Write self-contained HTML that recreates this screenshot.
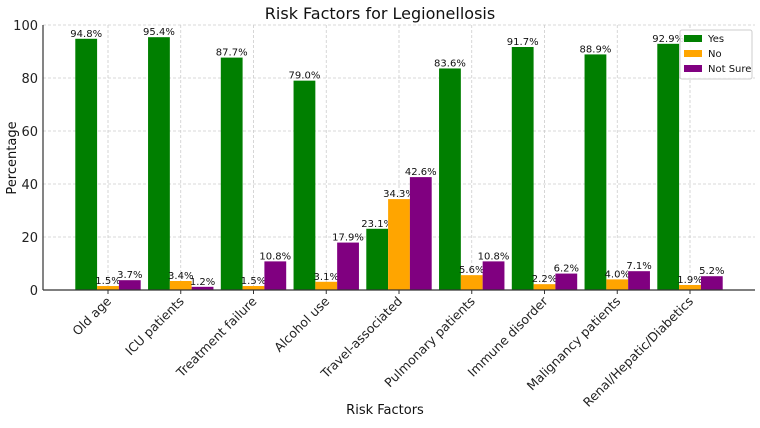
<!DOCTYPE html>
<html><head><meta charset="utf-8"><style>
body{margin:0;background:#fff;font-family:"Liberation Sans","DejaVu Sans",sans-serif}
</style></head><body>
<svg id="chart" width="760" height="423" xmlns="http://www.w3.org/2000/svg" font-family="DejaVu Sans, Liberation Sans, sans-serif"></svg>
<script>
const categories=["Old age","ICU patients","Treatment failure","Alcohol use","Travel-associated","Pulmonary patients","Immune disorder","Malignancy patients","Renal/Hepatic/Diabetics"];
const yesValues=[94.8,95.4,87.7,79.0,23.1,83.6,91.7,88.9,92.9];
const noValues=[1.5,3.4,1.5,3.1,34.3,5.6,2.2,4.0,1.9];
const notSureValues=[3.7,1.2,10.8,17.9,42.6,10.8,6.2,7.1,5.2];
const yTicks=[0,20,40,60,80,100];
const seriesNames=["Yes","No","Not Sure"];
const seriesColors=["#007f00","#ffa500","#800080"];

const svgEl=document.getElementById('chart');
const NS="http://www.w3.org/2000/svg";
const pL=43,pR=755,pT=25,pB=290;
const step=72.75,c0=108,bw=21.8;
const xC=i=>c0+i*step;
const yS=v=>pB-(v/100)*(pB-pT);
function el(t,a,txt){const e=document.createElementNS(NS,t);for(const k in a)e.setAttribute(k,a[k]);if(txt!=null)e.textContent=txt;svgEl.appendChild(e);return e;}

yTicks.forEach(v=>{
  const g=el('line',{x1:pL,x2:pR,y1:yS(v),y2:yS(v),stroke:'#ccc','stroke-dasharray':'3,2','stroke-width':0.8});
  
  
  const t=el('text',{x:pL-5,y:yS(v)+5,'text-anchor':'end','font-size':13,fill:'#222'},v);
  
  
});
categories.forEach((c,i)=>{
  const g=el('line',{x1:xC(i),x2:xC(i),y1:pT,y2:pB,stroke:'#ccc','stroke-dasharray':'3,2','stroke-width':0.8});
  
  
});
const series=[yesValues,noValues,notSureValues];
series.forEach((vals,s)=>{
  vals.forEach((v,i)=>{
    const x=xC(i)+(s-1)*bw-bw/2;
    const r=el('rect',{x:x,y:yS(v),width:bw,height:pB-yS(v),fill:seriesColors[s]});
    
    
    const t=el('text',{x:x+bw/2,y:yS(v)-2,'text-anchor':'middle','font-size':10,fill:'#111'},v.toFixed(1)+'%');
    
    
  });
});
const ax=el('line',{x1:pL,x2:pR,y1:pB,y2:pB,stroke:'#333','stroke-width':1.2});


const ay=el('line',{x1:pL,x2:pL,y1:pT,y2:pB,stroke:'#333','stroke-width':1.2});


categories.forEach((c,i)=>{
  const tk=el('line',{x1:xC(i),x2:xC(i),y1:pB,y2:pB+4,stroke:'#333'});
  
  
  const t=el('text',{x:xC(i)+4,y:pB+12,'text-anchor':'end','font-size':12.5,fill:'#222',transform:`rotate(-45 ${xC(i)+4} ${pB+12})`},c);
  
  
});
const tt=el('text',{x:380,y:19,'text-anchor':'middle','font-size':16,fill:'#111'},'Risk Factors for Legionellosis');


const xt=el('text',{x:385,y:414,'text-anchor':'middle','font-size':13,fill:'#111'},'Risk Factors');


const yt=el('text',{x:16,y:158,'text-anchor':'middle','font-size':13,fill:'#111',transform:'rotate(-90 16 158)'},'Percentage');


const lb=el('rect',{x:680,y:30,width:72,height:49,fill:'#fff','fill-opacity':0.85,stroke:'#ccc',rx:2});


seriesNames.forEach((n,s)=>{
  const yy=35+s*15;
  const sw=el('rect',{x:684,y:yy,width:18,height:7,fill:seriesColors[s]});
  
  
  const t=el('text',{x:708,y:yy+7,'font-size':10,fill:'#111'},n);
  
  
});
</script>
</body></html>
